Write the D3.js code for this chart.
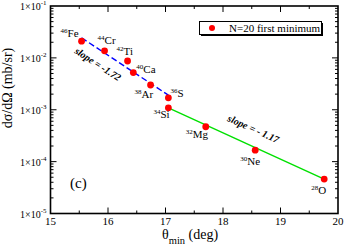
<!DOCTYPE html>
<html lang="en">
<head>
  <meta charset="UTF-8">
  <title>first minimum</title>
  <script src="https://d3js.org/d3.v7.min.js"></script>
  <style>
    body { margin: 0; background: #fff; }
    text { font-family: "Liberation Serif", "DejaVu Serif", serif; fill: #000; }
  </style>
</head>
<body>
  <svg id="chart" width="345" height="247"></svg>
  <script>
    // values
    const nuclei = ["Fe", "Cr", "Ti", "Ca", "Ar", "S", "Si", "Mg", "Ne", "O"];
    const massNumbers = [46, 44, 42, 40, 38, 36, 34, 32, 30, 28];
    const thetaMin = [15.54, 15.94, 16.34, 16.44, 16.74, 17.05, 17.05, 17.70, 18.56, 19.76];
    const sigma = [2.1e-2, 1.37e-2, 8.7e-3, 5.2e-3, 3.0e-3, 1.7e-3, 1.09e-3, 4.7e-4, 1.66e-4, 4.6e-5];

    // fitted lines, end points only
    const blueFitTheta = [15.54, 17.05];
    const blueFitSigma = [2.44e-2, 1.91e-3];
    const greenFitTheta = [17.05, 19.76];
    const greenFitSigma = [1.09e-3, 4.6e-5];

    const xTicks = [15, 16, 17, 18, 19, 20];
    const yTicks = [1e-5, 1e-4, 1e-3, 1e-2, 1e-1];
    const yTickExp = ["-5", "-4", "-3", "-2", "-1"];

    // label offsets from each point (layout)
    const labelOffset = [[-21, -4], [-7, -7], [-11, -6], [3, 0], [-16, 13], [2, -1], [-15, 10], [-20, 11], [-15, 15], [-13, 15]];

    const svg = d3.select("#chart");
    const pLeft = 50.5, pRight = 338, pTop = 6, pBottom = 213.5;

    const x = d3.scaleLinear().domain([15, 20]).range([pLeft, pRight]);
    const y = d3.scaleLog().domain([1e-5, 1e-1]).range([pBottom, pTop]);

    // minor ticks
    const xMinor = d3.range(15.5, 20, 1);
    const yMinor = [];
    yTicks.slice(0, -1).forEach(d => { for (let k = 2; k <= 9; k++) yMinor.push(d * k); });

    const tk = svg.append("g").attr("stroke", "#000").attr("stroke-width", 1);
    xTicks.slice(1, -1).forEach(d => {
      tk.append("line").attr("x1", x(d)).attr("x2", x(d)).attr("y1", pBottom).attr("y2", pBottom - 6);
      tk.append("line").attr("x1", x(d)).attr("x2", x(d)).attr("y1", pTop).attr("y2", pTop + 6);
    });
    xMinor.forEach(d => {
      tk.append("line").attr("x1", x(d)).attr("x2", x(d)).attr("y1", pBottom).attr("y2", pBottom - 3);
      tk.append("line").attr("x1", x(d)).attr("x2", x(d)).attr("y1", pTop).attr("y2", pTop + 3);
    });
    yTicks.slice(1, -1).forEach(d => {
      tk.append("line").attr("x1", pLeft).attr("x2", pLeft + 6).attr("y1", y(d)).attr("y2", y(d));
      tk.append("line").attr("x1", pRight).attr("x2", pRight - 6).attr("y1", y(d)).attr("y2", y(d));
    });
    yMinor.forEach(d => {
      tk.append("line").attr("x1", pLeft).attr("x2", pLeft + 3).attr("y1", y(d)).attr("y2", y(d));
      tk.append("line").attr("x1", pRight).attr("x2", pRight - 3).attr("y1", y(d)).attr("y2", y(d));
    });

    // frame
    svg.append("rect").attr("x", pLeft).attr("y", pTop)
      .attr("width", pRight - pLeft).attr("height", pBottom - pTop)
      .attr("fill", "none").attr("stroke", "#000").attr("stroke-width", 1.6);

    // tick labels
    svg.append("g").selectAll("text").data(xTicks).join("text")
      .attr("x", d => x(d)).attr("y", 224.5)
      .attr("text-anchor", "middle").attr("font-size", 11)
      .text(d => d);

    const yl = svg.append("g").selectAll("text").data(yTicks).join("text")
      .attr("x", 20).attr("y", d => y(d) + 4)
      .attr("font-size", 10);
    yl.append("tspan").text("1\u00d710");
    yl.append("tspan").attr("font-size", 7).attr("dy", -5).text((d, i) => yTickExp[i]);

    // axis titles
    const xt = svg.append("text").attr("x", 162).attr("y", 239).attr("font-size", 14);
    xt.append("tspan").text("\u03b8");
    xt.append("tspan").attr("font-size", 10.5).attr("dy", 5).text("min");
    xt.append("tspan").attr("dy", -5).text(" (deg)");

    svg.append("text")
      .attr("transform", "translate(12,88) rotate(-90)")
      .attr("text-anchor", "middle").attr("font-size", 14)
      .text("d\u03c3/d\u03a9 (mb/sr)");

    svg.append("text").attr("x", 70).attr("y", 188).attr("font-size", 15).text("(c)");

    // fit lines
    const line = d3.line().x(d => x(d[0])).y(d => y(d[1]));
    svg.append("path").datum(blueFitTheta.map((t, i) => [t, blueFitSigma[i]]))
      .attr("d", line).attr("fill", "none").attr("stroke", "#0000ff")
      .attr("stroke-width", 1.4).attr("stroke-dasharray", "6,3");
    svg.append("path").datum(greenFitTheta.map((t, i) => [t, greenFitSigma[i]]))
      .attr("d", line).attr("fill", "none").attr("stroke", "#00e000")
      .attr("stroke-width", 1.4);

    // slope notes
    svg.append("text")
      .attr("transform", "translate(96,67) rotate(33)")
      .attr("text-anchor", "middle").attr("font-size", 10)
      .attr("font-weight", "bold").attr("font-style", "italic")
      .text("slope = -1.72");
    svg.append("text")
      .attr("transform", "translate(252,132) rotate(24)")
      .attr("text-anchor", "middle").attr("font-size", 10)
      .attr("font-weight", "bold").attr("font-style", "italic")
      .text("slope = - 1.17");

    // points
    svg.append("g").selectAll("circle").data(thetaMin).join("circle")
      .attr("cx", d => x(d)).attr("cy", (d, i) => y(sigma[i]))
      .attr("r", 3.4).attr("fill", "#ff0000");

    // nucleus labels
    const lab = svg.append("g").selectAll("text").data(nuclei).join("text")
      .attr("x", (d, i) => x(thetaMin[i]) + labelOffset[i][0])
      .attr("y", (d, i) => y(sigma[i]) + labelOffset[i][1])
      .attr("font-size", 11);
    lab.append("tspan").attr("font-size", 7).attr("dy", -4).text((d, i) => massNumbers[i]);
    lab.append("tspan").attr("dy", 4).text(d => d);

    // legend
    const lg = svg.append("g");
    lg.append("rect").attr("x", 201).attr("y", 23).attr("width", 122).attr("height", 13)
      .attr("fill", "#000");
    lg.append("rect").attr("x", 199.5).attr("y", 21.5).attr("width", 122).attr("height", 13)
      .attr("fill", "#fff").attr("stroke", "#000").attr("stroke-width", 1);
    lg.append("circle").attr("cx", 212).attr("cy", 28).attr("r", 3).attr("fill", "#ff0000");
    lg.append("text").attr("x", 229).attr("y", 32).attr("font-size", 11).text("N=20 first minimum");
  </script>
</body>
</html>
